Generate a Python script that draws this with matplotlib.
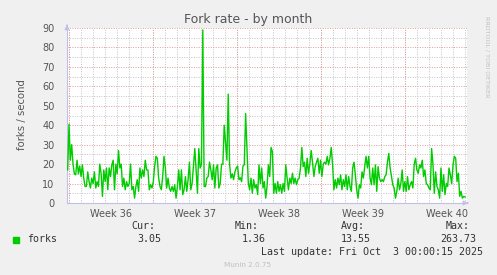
import numpy as np
import matplotlib
matplotlib.use('Agg')
import matplotlib.pyplot as plt
from matplotlib.ticker import MultipleLocator, FixedLocator

# forks per second, one sample every ~2h40m
forks = [
    17, 40.5, 22, 30, 20, 15, 14.5, 22,
    15, 19, 13.6, 19.6, 12.8, 8.5, 8.5, 16, 11, 7.7,
    12.8, 10, 16, 7.7, 11, 8.5, 20, 15, 3.4, 17,
    11, 18, 6.8, 18, 13.6, 19.6, 22, 6.8, 20, 15,
    27, 18, 20, 8.5, 12.8, 6.8, 11, 8.5, 10, 20,
    6.8, 8.5, 2.5, 8.5, 12, 6, 18, 12.8, 17, 13.6,
    22, 17, 17, 6.8, 9.4, 7.7, 11, 19, 24, 23,
    12.8, 8.5, 6.8, 13.6, 24, 18, 7.7, 12.8, 7.7, 6,
    8.5, 6, 9.4, 2.5, 8.5, 17, 6.8, 17, 4.3, 6.8,
    13.6, 6, 12, 21, 6.8, 10, 19, 28, 17, 5,
    28, 18, 20, 89,
    8.5, 8.5, 12.8, 13.6, 21, 17, 12, 19.6, 7.7, 18,
    19.6, 7.7, 10, 20, 20, 40, 30.7, 22, 56,
    20, 12.8, 15, 12, 16, 18, 19,
    12, 13, 11, 19, 19.7, 46, 27.4, 10.3,
    6.8, 12.8, 5, 12, 7.7, 9.4, 4.3, 19.6, 10, 18,
    7.7, 11, 2.5, 8.5, 19.6, 13.6, 28.6, 26.4, 5, 10,
    5, 11, 6, 9.4, 5, 10, 6, 19.6, 12.8, 6.8,
    12.8, 10, 15.3, 10, 12.8, 9.4, 12, 12.8, 18, 28.6,
    18.7, 21, 13.6, 23, 15.3, 20, 27, 21, 13.6, 18.7,
    21, 23, 15.3, 22, 13.6, 20, 21, 20, 24, 19.6,
    23, 28.6, 19.6, 6.8, 12, 7.7, 12.8, 9.4, 14.5, 6.8,
    12, 8.5, 14.5, 6.8, 13.6, 8.5, 6, 18, 21, 14.5,
    6.8, 2.5, 9.4, 7.7, 16, 12.8, 18.7, 24, 18, 24,
    12.8, 9.4, 18, 9.4, 19.6, 6, 18.7, 12.8, 11, 12,
    11, 13.6, 14.5, 21, 25.5, 18, 13.6, 9.4, 7.7, 2.5,
    6, 12.8, 6.8, 10, 17, 6, 11, 6, 13.6, 6.8,
    9.4, 11, 7.7, 20, 23, 17, 15.3, 19.6, 18, 22,
    13.6, 17, 10, 9.4, 7.7, 6.8, 28, 20, 5, 16,
    8.5, 6.8, 2.5, 18, 6, 14.5, 4.3, 10, 8.5, 18,
    14.5, 10, 19.6, 24, 23, 11, 15.3, 3.4, 6, 2.5,
    3.4, 3.05,
]
week_labels = ['Week 36', 'Week 37', 'Week 38', 'Week 39', 'Week 40']
legend_head = ['Cur:', 'Min:', 'Avg:', 'Max:']
legend_vals = ['3.05', '1.36', '13.55', '263.73']

# time axis in days from the left edge of the graph
span = 400 / 12.0
first_sample = 0.056
step = 0.1115
week_start = 0.17
t = first_sample + np.arange(len(forks)) * step

grey = '#555555'
fig = plt.figure(figsize=(4.97, 2.75), dpi=100, facecolor='#f0f0f0')
ax = fig.add_axes([67 / 497, 1 - 203 / 275, 400 / 497, 175 / 275])
ax.set_facecolor('white')

ax.plot(t, forks, color='#00cc00', lw=1.0, zorder=3)
ax.set_xlim(0, span)
ax.set_ylim(0, 90)

# grid: grey dotted every 5 / every day, red dotted every 10 / every week
weeks = [week_start + 7 * k for k in range(5)]
days = [d for d in np.arange(week_start, span, 1.0)]
dots = (0, (1, 1.5))
for d in days:
    ax.axvline(d, color='#c4c4c4', lw=0.7, ls=dots, zorder=1)
for w in weeks:
    ax.axvline(w, color='#e39a9a', lw=0.7, ls=dots, zorder=2)
for v in range(5, 90, 10):
    ax.axhline(v, color='#c4c4c4', lw=0.7, ls=dots, zorder=1)
for v in range(10, 91, 10):
    ax.axhline(v, color='#e39a9a', lw=0.7, ls=dots, zorder=2)

ax.yaxis.set_major_locator(MultipleLocator(10))
ax.xaxis.set_major_locator(FixedLocator([w + 3.5 for w in weeks]))
ax.set_xticklabels(week_labels)
ax.tick_params(axis='both', colors=grey, labelsize=7, length=0)
ax.tick_params(axis='y', pad=9)
ax.tick_params(axis='x', pad=4)

for s in ['top', 'right']:
    ax.spines[s].set_visible(False)
for s in ['left', 'bottom']:
    ax.spines[s].set_color('#c0c0e8')
    ax.spines[s].set_linewidth(0.8)
ax.annotate('', xy=(1.01, 0), xytext=(0.995, 0), xycoords='axes fraction',
            arrowprops=dict(arrowstyle='-|>', color='#c0c0e8', lw=0.8, mutation_scale=7))
ax.annotate('', xy=(0, 1.035), xytext=(0, 1.0), xycoords='axes fraction',
            arrowprops=dict(arrowstyle='-|>', color='#c0c0e8', lw=0.8, mutation_scale=7))

fig.text(248 / 497, 1 - 19 / 275, 'Fork rate - by month', ha='center', va='center',
         fontsize=9, color=grey)
fig.text(22 / 497, 1 - 115 / 275, 'forks / second', ha='center', va='center',
         rotation=90, fontsize=7.3, color=grey)
fig.text(487 / 497, 1 - 57 / 275, 'RRDTOOL / TOBI OETIKER', ha='center', va='center',
         rotation=-90, fontsize=4.6, color='#c0c0c0')

mono = 'DejaVu Sans Mono'
fs = 7.2
fig.patches.append(plt.Rectangle((13 / 497, 1 - 243 / 275), 6 / 497, 6 / 275,
                                 transform=fig.transFigure, color='#00cc00'))
fig.text(27 / 497, 1 - 239 / 275, 'forks', ha='left', va='center',
         fontsize=fs, family=mono, color='#333333')
head_right = [155, 259, 365, 470]
val_right = [161, 266, 371, 476]
for h, v, hx, vx in zip(legend_head, legend_vals, head_right, val_right):
    fig.text(hx / 497, 1 - 226 / 275, h, ha='right', va='center',
             fontsize=fs, family=mono, color='#333333')
    fig.text(vx / 497, 1 - 239 / 275, v, ha='right', va='center',
             fontsize=fs, family=mono, color='#333333')
fig.text(483 / 497, 1 - 252 / 275, 'Last update: Fri Oct  3 00:00:15 2025',
         ha='right', va='center', fontsize=fs, family=mono, color='#333333')
fig.text(248 / 497, 1 - 265 / 275, 'Munin 2.0.75', ha='center', va='center',
         fontsize=5.2, color='#c0c0c0')

fig.savefig('out.png', dpi=100, facecolor=fig.get_facecolor())
